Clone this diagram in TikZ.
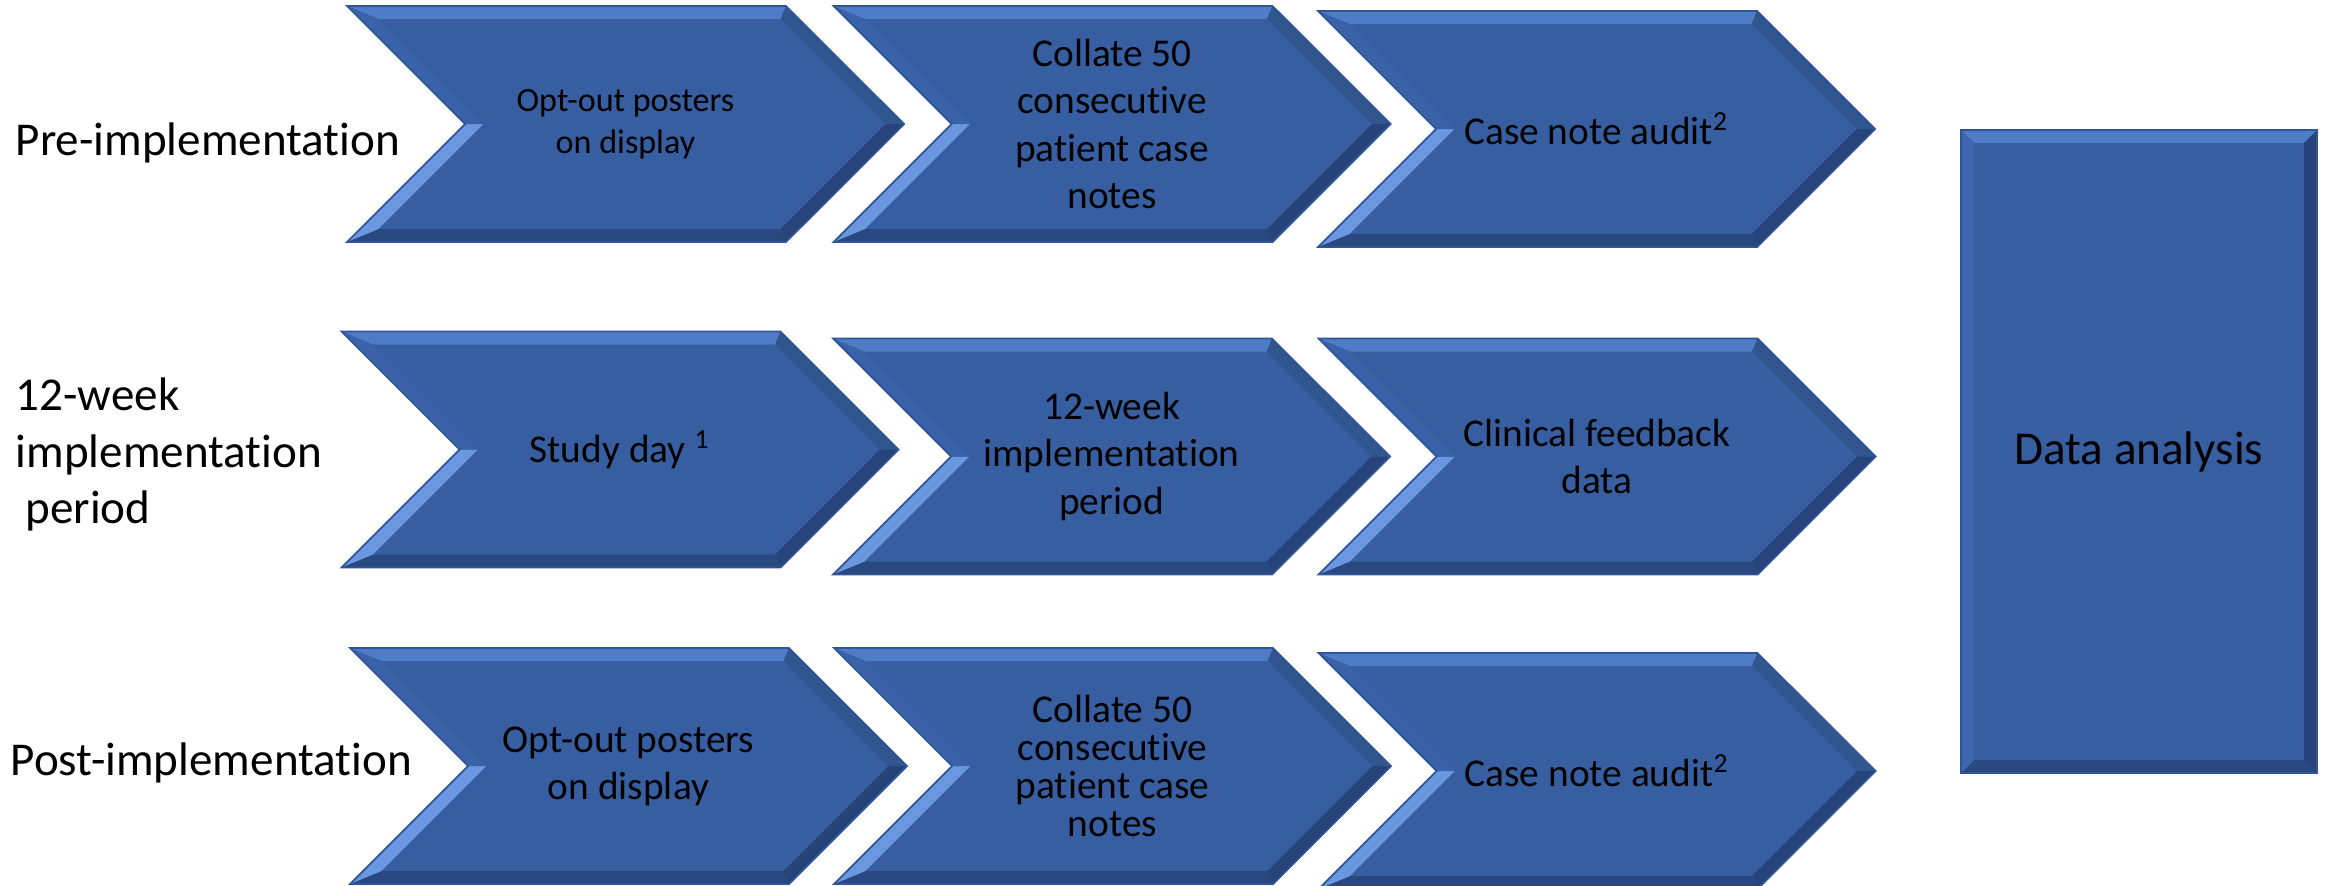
\documentclass[tikz,border=0pt]{standalone}
\usepackage{fontspec}
\setmainfont{Carlito}[Ligatures=NoCommon]
\usetikzlibrary{shapes.symbols}

\definecolor{chevfill}{HTML}{365EA0}
\definecolor{chevline}{HTML}{2F5597}
\definecolor{bevtop}{HTML}{4F7CC7}
\definecolor{bevlight}{HTML}{6A98E0}
\definecolor{bevmid}{HTML}{3A62A8}
\definecolor{bevright}{HTML}{30558F}
\definecolor{bevdark}{HTML}{264479}

\begin{document}
\begin{tikzpicture}[
    chev/.style={shape=signal, signal from=west, signal to=east,
        signal pointer angle=90, minimum width=5.57cm, minimum height=2.36cm,
        inner sep=0pt, fill=chevfill, draw=chevline, line width=0.5pt,
        align=center, font=\fontsize{11.2}{13.4}\selectfont,
        path picture={
          \path (path picture bounding box.north west) coordinate (tl)
                (path picture bounding box.south west) coordinate (bl)
                (path picture bounding box.east) coordinate (tip)
                ([xshift=-11.8mm]path picture bounding box.north east) coordinate (tr)
                ([xshift=-11.8mm]path picture bounding box.south east) coordinate (br)
                ([xshift=11.8mm]path picture bounding box.west) coordinate (notch);
          % bevel faces
          \fill[bevtop] (tl) -- (tr) -- ([shift={(-0.54mm,-1.3mm)}]tr)
              -- ([shift={(3.14mm,-1.3mm)}]tl) -- cycle;
          \fill[bevright] (tr) -- (tip) -- ([xshift=-1.84mm]tip)
              -- ([shift={(-0.54mm,-1.3mm)}]tr) -- cycle;
          \fill[bevdark] (tip) -- (br) -- ([shift={(-0.54mm,1.3mm)}]br)
              -- ([xshift=-1.84mm]tip) -- cycle;
          \fill[bevdark!85!chevfill] (br) -- (bl) -- ([shift={(3.14mm,1.3mm)}]bl)
              -- ([shift={(-0.54mm,1.3mm)}]br) -- cycle;
          \fill[bevlight] (bl) -- (notch) -- ([xshift=1.84mm]notch)
              -- ([shift={(3.14mm,1.3mm)}]bl) -- cycle;
          \fill[bevmid] (notch) -- (tl) -- ([shift={(3.14mm,-1.3mm)}]tl)
              -- ([xshift=1.84mm]notch) -- cycle;
        }},
    bigbox/.style={rectangle, minimum width=3.56cm, minimum height=6.43cm,
        inner sep=0pt, fill=chevfill, draw=chevline, line width=0.5pt,
        font=\fontsize{13.4}{16.2}\selectfont,
        path picture={
          \path (path picture bounding box.north west) coordinate (tl)
                (path picture bounding box.north east) coordinate (tr)
                (path picture bounding box.south east) coordinate (br)
                (path picture bounding box.south west) coordinate (bl);
          \fill[bevtop] (tl) -- (tr) -- ([shift={(-1.3mm,-1.3mm)}]tr)
              -- ([shift={(1.3mm,-1.3mm)}]tl) -- cycle;
          \fill[bevdark] (tr) -- (br) -- ([shift={(-1.3mm,1.3mm)}]br)
              -- ([shift={(-1.3mm,-1.3mm)}]tr) -- cycle;
          \fill[bevdark!85!chevfill] (br) -- (bl) -- ([shift={(1.3mm,1.3mm)}]bl)
              -- ([shift={(-1.3mm,1.3mm)}]br) -- cycle;
          \fill[bevmid!80!bevtop] (bl) -- (tl) -- ([shift={(1.3mm,-1.3mm)}]tl)
              -- ([shift={(1.3mm,1.3mm)}]bl) -- cycle;
        }},
    phase/.style={anchor=west, inner sep=0pt, align=left,
        font=\fontsize{13.4}{16.2}\selectfont},
]
\useasboundingbox (0,0) rectangle (23.26,-8.86);

% phase labels
\node[phase] (prelbl)  at (0.15,-1.43) {Pre-implementation};
\node[phase] (midlbl)  at (0.15,-4.545)
    {12-week\\implementation\\\hspace*{0.21em}period};
\node[phase] (postlbl) at (0.10,-7.63) {Post-implementation};

% pre-implementation
\node[chev, font=\fontsize{9.7}{11.9}\selectfont] (pre1) at (6.255,-1.24)
    {Opt-out posters\\on display};
\node[chev] (pre2) at (11.12,-1.24)
    {Collate 50\\consecutive\\patient case\\notes};
\node[chev] (pre3) at (15.965,-1.29) {Case note audit\textsuperscript{2}};

% implementation period
\node[chev] (mid1) at (6.20,-4.495) {Study day \textsuperscript{1}};
\node[chev] (mid2) at (11.115,-4.565) {12-week\\implementation\\period};
\node[chev] (mid3) at (15.97,-4.565) {Clinical feedback\\data};

% post-implementation
\node[chev] (post1) at (6.285,-7.66) {Opt-out posters\\on display};
\node[chev, font=\fontsize{11.2}{10.8}\selectfont] (post2) at (11.125,-7.66)
    {Collate 50\\consecutive\\patient case\\notes};
\node[chev] (post3) at (15.97,-7.71) {Case note audit\textsuperscript{2}};

% analysis
\node[bigbox] (analysis) at (21.39,-4.515) {Data analysis};

\end{tikzpicture}
\end{document}
